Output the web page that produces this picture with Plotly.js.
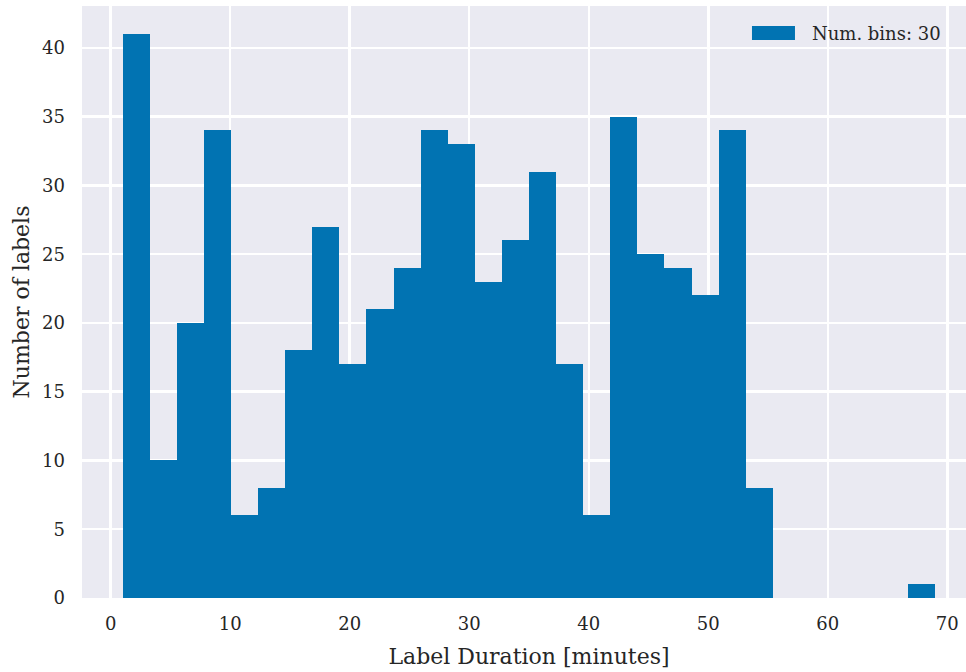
<!DOCTYPE html>
<html>
<head>
<meta charset="utf-8">
<script src="https://cdn.plot.ly/plotly-3.0.1.min.js"></script>
<style>html,body{margin:0;padding:0;overflow:hidden;background:#fff}</style>
</head>
<body>
<div id="chart"></div>
<script>
// Histogram of label durations (minutes), 30 bins between the data min and max
const binMin = 1.0;
const binMax = 69.0;
const numBins = 30;
const counts = [41, 10, 20, 34, 6, 8, 18, 27, 17, 21, 24, 34, 33, 23, 26, 31, 17, 6, 35, 25, 24, 22, 34, 8, 0, 0, 0, 0, 0, 1];
const xTicks = [0, 10, 20, 30, 40, 50, 60, 70];
const yTicks = [0, 5, 10, 15, 20, 25, 30, 35, 40];

const binWidth = (binMax - binMin) / numBins;
const centers = counts.map((_, i) => binMin + binWidth * (i + 0.5));

const font = "DejaVu Serif";
const textColor = "#262626";

const trace = {
  type: "bar",
  x: centers,
  y: counts,
  width: binWidth,
  name: "Num. bins: " + numBins,
  marker: {color: "#0173B2", line: {width: 0}},
  showlegend: true
};

const layout = {
  width: 976,
  height: 672,
  margin: {l: 82, r: 0, t: 6, b: 74},
  paper_bgcolor: "#ffffff",
  plot_bgcolor: "#EAEAF2",
  bargap: 0,
  font: {family: font, color: textColor, size: 18},
  xaxis: {
    range: [-2.4, 72.4],
    tickvals: xTicks,
    ticktext: xTicks.map(String),
    showgrid: true, gridcolor: "#ffffff", gridwidth: 2.5,
    zeroline: false, showline: false, ticks: "",
    ticklabelstandoff: 13,
    tickfont: {family: font, size: 18, color: textColor},
    title: {text: "Label Duration [minutes]", font: {family: font, size: 22, color: textColor}, standoff: 15}
  },
  yaxis: {
    range: [0, 43.05],
    tickvals: yTicks,
    ticktext: yTicks.map(String),
    showgrid: true, gridcolor: "#ffffff", gridwidth: 2.5,
    zeroline: false, showline: false, ticks: "",
    ticklabelstandoff: 16,
    tickfont: {family: font, size: 18, color: textColor},
    title: {text: "Number of labels", font: {family: font, size: 22, color: textColor}, standoff: 6}
  },
  legend: {
    x: 0.7304, xanchor: "left", y: 0.985, yanchor: "top",
    bgcolor: "rgba(0,0,0,0)",
    itemwidth: 67,
    font: {family: font, size: 18, color: textColor}
  }
};

Plotly.newPlot("chart", [trace], layout, {displayModeBar: false, staticPlot: true}).then(gd => {
  // widen the legend swatch to a matplotlib-style patch
  gd.querySelectorAll(".legend .legendpoints path").forEach(p => {
    p.setAttribute("d", "M-21.5,-7H21.5V7H-21.5Z");
  });
});
</script>
</body>
</html>
